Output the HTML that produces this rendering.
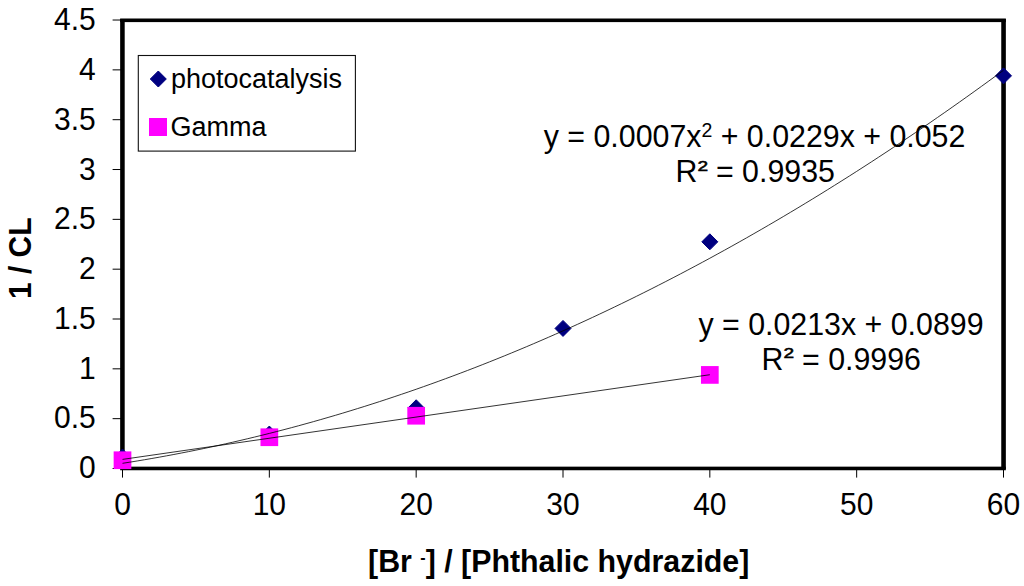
<!DOCTYPE html>
<html><head><meta charset="utf-8"><title>chart</title>
<style>
html,body{margin:0;padding:0;background:#fff;}
body{width:1024px;height:586px;overflow:hidden;}
svg{display:block;}
text{font-family:"Liberation Sans",sans-serif;fill:#000;}
</style></head><body>
<svg width="1024" height="586" viewBox="0 0 1024 586">
<rect x="0" y="0" width="1024" height="586" fill="#fff"/>
<rect x="120.15" y="19" width="4.55" height="450" fill="#000"/>
<rect x="1001.25" y="19" width="4.6" height="450" fill="#000"/>
<rect x="120.15" y="18.5" width="885.7" height="3.6" fill="#000"/>
<rect x="120.15" y="466.65" width="885.7" height="3.6" fill="#000"/>
<line x1="112.6" y1="468.50" x2="122.5" y2="468.50" stroke="#000" stroke-width="1"/>
<line x1="112.6" y1="418.67" x2="122.5" y2="418.67" stroke="#000" stroke-width="1"/>
<line x1="112.6" y1="368.84" x2="122.5" y2="368.84" stroke="#000" stroke-width="1"/>
<line x1="112.6" y1="319.01" x2="122.5" y2="319.01" stroke="#000" stroke-width="1"/>
<line x1="112.6" y1="269.18" x2="122.5" y2="269.18" stroke="#000" stroke-width="1"/>
<line x1="112.6" y1="219.35" x2="122.5" y2="219.35" stroke="#000" stroke-width="1"/>
<line x1="112.6" y1="169.52" x2="122.5" y2="169.52" stroke="#000" stroke-width="1"/>
<line x1="112.6" y1="119.69" x2="122.5" y2="119.69" stroke="#000" stroke-width="1"/>
<line x1="112.6" y1="69.86" x2="122.5" y2="69.86" stroke="#000" stroke-width="1"/>
<line x1="112.6" y1="20.03" x2="122.5" y2="20.03" stroke="#000" stroke-width="1"/>
<line x1="122.50" y1="468.5" x2="122.50" y2="477.6" stroke="#000" stroke-width="1"/>
<line x1="269.33" y1="468.5" x2="269.33" y2="477.6" stroke="#000" stroke-width="1"/>
<line x1="416.17" y1="468.5" x2="416.17" y2="477.6" stroke="#000" stroke-width="1"/>
<line x1="563.00" y1="468.5" x2="563.00" y2="477.6" stroke="#000" stroke-width="1"/>
<line x1="709.83" y1="468.5" x2="709.83" y2="477.6" stroke="#000" stroke-width="1"/>
<line x1="856.67" y1="468.5" x2="856.67" y2="477.6" stroke="#000" stroke-width="1"/>
<line x1="1003.50" y1="468.5" x2="1003.50" y2="477.6" stroke="#000" stroke-width="1"/>
<text transform="translate(95.7,478.20) scale(1,1.05)" font-size="30" text-anchor="end">0</text>
<text transform="translate(95.7,428.44) scale(1,1.05)" font-size="30" text-anchor="end">0.5</text>
<text transform="translate(95.7,378.68) scale(1,1.05)" font-size="30" text-anchor="end">1</text>
<text transform="translate(95.7,328.92) scale(1,1.05)" font-size="30" text-anchor="end">1.5</text>
<text transform="translate(95.7,279.16) scale(1,1.05)" font-size="30" text-anchor="end">2</text>
<text transform="translate(95.7,229.40) scale(1,1.05)" font-size="30" text-anchor="end">2.5</text>
<text transform="translate(95.7,179.64) scale(1,1.05)" font-size="30" text-anchor="end">3</text>
<text transform="translate(95.7,129.88) scale(1,1.05)" font-size="30" text-anchor="end">3.5</text>
<text transform="translate(95.7,80.12) scale(1,1.05)" font-size="30" text-anchor="end">4</text>
<text transform="translate(95.7,30.36) scale(1,1.05)" font-size="30" text-anchor="end">4.5</text>
<text transform="translate(122.50,514.6) scale(1,1.05)" font-size="30" text-anchor="middle">0</text>
<text transform="translate(269.33,514.6) scale(1,1.05)" font-size="30" text-anchor="middle">10</text>
<text transform="translate(416.17,514.6) scale(1,1.05)" font-size="30" text-anchor="middle">20</text>
<text transform="translate(563.00,514.6) scale(1,1.05)" font-size="30" text-anchor="middle">30</text>
<text transform="translate(709.83,514.6) scale(1,1.05)" font-size="30" text-anchor="middle">40</text>
<text transform="translate(856.67,514.6) scale(1,1.05)" font-size="30" text-anchor="middle">50</text>
<text transform="translate(1003.50,514.6) scale(1,1.05)" font-size="30" text-anchor="middle">60</text>
<polygon points="122.50,449.05 130.50,457.05 122.50,465.05 114.50,457.05" fill="#000080" stroke="#000080" stroke-width="1" stroke-linejoin="round"/>
<polygon points="269.33,426.05 277.33,434.05 269.33,442.05 261.33,434.05" fill="#000080" stroke="#000080" stroke-width="1" stroke-linejoin="round"/>
<polygon points="416.17,399.77 424.17,407.77 416.17,415.77 408.17,407.77" fill="#000080" stroke="#000080" stroke-width="1" stroke-linejoin="round"/>
<polygon points="563.00,320.43 571.00,328.43 563.00,336.43 555.00,328.43" fill="#000080" stroke="#000080" stroke-width="1" stroke-linejoin="round"/>
<polygon points="709.83,233.81 717.83,241.81 709.83,249.81 701.83,241.81" fill="#000080" stroke="#000080" stroke-width="1" stroke-linejoin="round"/>
<polygon points="1003.50,67.85 1011.50,75.85 1003.50,83.85 995.50,75.85" fill="#000080" stroke="#000080" stroke-width="1" stroke-linejoin="round"/>
<rect x="113.65" y="451.39" width="17.7" height="17.7" fill="#ff00ff"/>
<rect x="260.48" y="428.39" width="17.7" height="17.7" fill="#ff00ff"/>
<rect x="407.32" y="406.89" width="17.7" height="17.7" fill="#ff00ff"/>
<rect x="700.98" y="366.07" width="17.7" height="17.7" fill="#ff00ff"/>
<polyline points="122.50,463.32 129.84,462.17 137.18,460.97 144.53,459.74 151.87,458.48 159.21,457.18 166.55,455.84 173.89,454.47 181.23,453.06 188.57,451.62 195.92,450.14 203.26,448.63 210.60,447.08 217.94,445.50 225.28,443.88 232.62,442.22 239.97,440.53 247.31,438.80 254.65,437.04 261.99,435.24 269.33,433.41 276.68,431.54 284.02,429.63 291.36,427.69 298.70,425.72 306.04,423.70 313.38,421.66 320.73,419.57 328.07,417.45 335.41,415.30 342.75,413.11 350.09,410.88 357.43,408.62 364.77,406.33 372.12,403.99 379.46,401.63 386.80,399.22 394.14,396.78 401.48,394.31 408.82,391.80 416.17,389.25 423.51,386.67 430.85,384.06 438.19,381.40 445.53,378.71 452.88,375.99 460.22,373.23 467.56,370.44 474.90,367.61 482.24,364.74 489.58,361.84 496.93,358.90 504.27,355.93 511.61,352.92 518.95,349.88 526.29,346.80 533.63,343.68 540.98,340.53 548.32,337.34 555.66,334.12 563.00,330.86 570.34,327.57 577.68,324.24 585.02,320.88 592.37,317.48 599.71,314.04 607.05,310.57 614.39,307.06 621.73,303.52 629.08,299.94 636.42,296.33 643.76,292.68 651.10,289.00 658.44,285.28 665.78,281.52 673.12,277.73 680.47,273.90 687.81,270.04 695.15,266.14 702.49,262.21 709.83,258.24 717.17,254.23 724.52,250.19 731.86,246.12 739.20,242.01 746.54,237.86 753.88,233.67 761.23,229.46 768.57,225.20 775.91,220.91 783.25,216.59 790.59,212.23 797.93,207.83 805.27,203.40 812.62,198.93 819.96,194.43 827.30,189.89 834.64,185.31 841.98,180.70 849.33,176.06 856.67,171.38 864.01,166.66 871.35,161.91 878.69,157.12 886.03,152.30 893.38,147.44 900.72,142.54 908.06,137.61 915.40,132.65 922.74,127.64 930.08,122.61 937.42,117.53 944.77,112.43 952.11,107.28 959.45,102.10 966.79,96.89 974.13,91.64 981.48,86.35 988.82,81.03 996.16,75.67 1003.50,70.28" fill="none" stroke="#000" stroke-width="0.8"/>
<line x1="122.50" y1="459.40" x2="709.83" y2="374.73" stroke="#000" stroke-width="0.8"/>
<rect x="138.3" y="55.5" width="217.1" height="95.6" fill="#fff" stroke="#111" stroke-width="1.1"/>
<polygon points="158.30,71.00 166.30,79.00 158.30,87.00 150.30,79.00" fill="#000080" stroke="#000080" stroke-width="1" stroke-linejoin="round"/>
<text x="171" y="88" font-size="27">photocatalysis</text>
<rect x="149.00" y="118.00" width="18" height="18" fill="#ff00ff"/>
<text x="170.5" y="136" font-size="27">Gamma</text>
<text transform="translate(543.7,147.0) scale(1,1.05)" font-size="30.35">y = 0.0007x<tspan font-size="19.5" dy="-9.3">2</tspan><tspan dy="9.3"> + 0.0229x + 0.052</tspan></text>
<text transform="translate(675.49,182.2) scale(1,1.05)" font-size="30.35">R</text>
<text transform="translate(697.50,170.90) scale(1.27,1)" font-size="15" stroke="#000" stroke-width="0.55">2</text>
<text transform="translate(707.50,182.2) scale(1,1.05)" font-size="30.35" xml:space="preserve"> = 0.9935</text>
<text transform="translate(698.4,335.3) scale(1,1.05)" font-size="30.35">y = 0.0213x + 0.0899</text>
<text transform="translate(761.59,369.5) scale(1,1.05)" font-size="30.35">R</text>
<text transform="translate(783.60,358.20) scale(1.27,1)" font-size="15" stroke="#000" stroke-width="0.55">2</text>
<text transform="translate(793.60,369.5) scale(1,1.05)" font-size="30.35" xml:space="preserve"> = 0.9996</text>
<text transform="translate(558.7,571.9) scale(1,1.04)" font-size="30.35" font-weight="bold" text-anchor="middle">[Br <tspan font-size="16" dy="-9">-</tspan><tspan dy="9">] / [Phthalic hydrazide]</tspan></text>
<text transform="translate(31.2,258.3) rotate(-90) scale(1,1.07)" font-size="30" font-weight="bold" text-anchor="middle">1 / CL</text>
</svg></body></html>
